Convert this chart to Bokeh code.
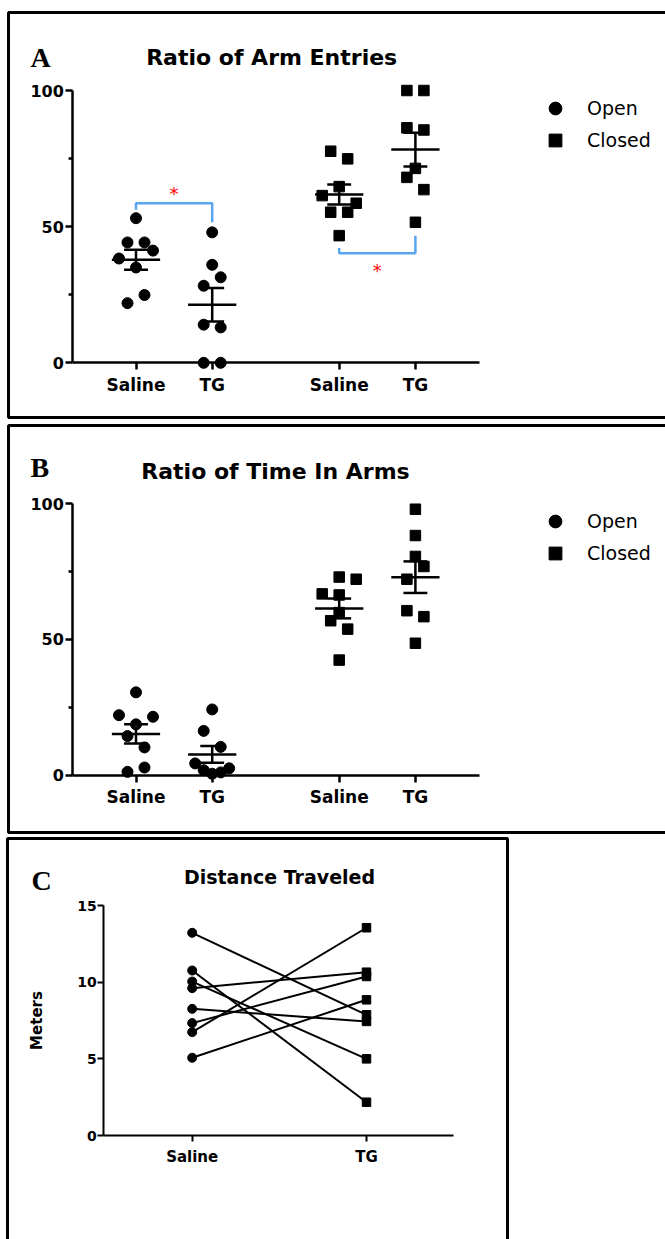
import numpy as np
from bokeh.plotting import figure
from bokeh.models import (LinearAxis, FixedTicker, Range1d, Legend, LegendItem,
                          Label, ColumnDataSource, BoxAnnotation)
from bokeh.layouts import column
from bokeh.embed import file_html
from bokeh.resources import INLINE
from bokeh.core.properties import value

# ---------------------------------------------------------------- data
CATEGORIES = ["Saline", "TG"]
ARMS = ["Open", "Closed"]

# Panel A - Ratio of arm entries
A_TITLE = "Ratio of Arm  Entries"
A_OPEN_SALINE = [53.1, 44.2, 44.2, 41.2, 38.3, 35.0, 24.9, 21.9]
A_OPEN_TG = [47.9, 36.0, 31.4, 28.3, 14.0, 13.0, 0.0, 0.0]
A_CLOSED_SALINE = [77.7, 74.9, 64.7, 61.4, 58.6, 55.3, 55.3, 46.7]
A_CLOSED_TG = [100.0, 100.0, 86.3, 85.5, 71.4, 68.1, 63.6, 51.6]

# Panel B - Ratio of time in arms
B_TITLE = "Ratio of Time In Arms"
B_OPEN_SALINE = [30.5, 22.1, 21.5, 18.7, 14.4, 10.2, 1.2, 2.8]
B_OPEN_TG = [24.2, 16.3, 10.4, 4.3, 1.8, 0.5, 1.0, 2.5]
B_CLOSED_SALINE = [73.0, 72.2, 66.8, 66.4, 59.9, 56.9, 53.8, 42.4]
B_CLOSED_TG = [98.0, 88.3, 80.6, 76.9, 72.2, 60.6, 58.4, 48.6]

# Panel C - Distance traveled (paired, meters)
C_TITLE = "Distance Traveled"
C_YLABEL = "Meters"
C_SALINE = [13.22, 10.76, 10.04, 9.61, 8.26, 7.33, 6.74, 5.07]
C_TG = [7.87, 2.17, 5.00, 10.65, 7.44, 10.37, 13.55, 8.85]

Y_TICKS_AB = [0, 50, 100]
Y_MINOR_AB = [25, 75]
Y_TICKS_C = [0, 5, 10, 15]

# significance brackets in panel A (y values: bar, left end, right end, star)
A_SIG_OPEN = [58.6, 56.2, 51.6, 62.6]
A_SIG_CLOSED = [40.2, 42.2, 46.7, 34.1]

# ---------------------------------------------------------------- style / layout
W = 665
FONT = "DejaVu Sans"
SERIF = "Liberation Serif"
BLUE = "#5aa5f0"

# scatter spread of overlapping points (in marker steps)
SPREAD = {
    "A": {("Open", "Saline"): [0, -1, 1, 2, -2, 0, 1, -1],
          ("Open", "TG"): [0, 0, 1, -1, -1, 1, -1, 1],
          ("Closed", "Saline"): [-1, 1, 0, -2, 2, -1, 1, 0],
          ("Closed", "TG"): [-1, 1, -1, 1, 0, -1, 1, 0]},
    "B": {("Open", "Saline"): [0, -2, 2, 0, -1, 1, -1, 1],
          ("Open", "TG"): [0, -1, 1, -2, -1, 0, 1, 2],
          ("Closed", "Saline"): [0, 2, -2, 0, 0, -1, 1, 0],
          ("Closed", "TG"): [0, 0, 0, 1, -1, -1, 1, 0]},
}
GROUP_POS = {("Open", "Saline"): 2, ("Open", "TG"): 5,
             ("Closed", "Saline"): 10, ("Closed", "TG"): 13}
STEP = 8.5 / 25.4


class Map:
    """linear pixel -> data map"""
    def __init__(self, p1, v1, p2, v2):
        self.p1, self.v1 = p1, v1
        self.k = (v2 - v1) / (p2 - p1)

    def __call__(self, px):
        return self.v1 + (px - self.p1) * self.k


def make_fig(h, border, xm, ym):
    p = figure(width=W, height=h,
               x_range=Range1d(xm(0), xm(W)), y_range=Range1d(ym(h), ym(0)),
               x_axis_type=None, y_axis_type=None,
               toolbar_location=None, tools="", output_backend="svg",
               min_border=0, min_border_left=0, min_border_top=0,
               min_border_right=0, min_border_bottom=0,
               background_fill_color="white", border_fill_color="white")
    p.outline_line_color = None
    l, t, r, b = border
    p.add_layout(BoxAnnotation(left=xm(l), right=xm(r), top=ym(t), bottom=ym(b),
                               fill_color=None, fill_alpha=0,
                               line_color="black", line_alpha=1.0, line_width=3))
    return p


def style_axis(ax, size, lw):
    ax.axis_line_width = lw
    ax.major_tick_line_width = lw
    ax.minor_tick_line_width = lw
    ax.major_tick_in = 0
    ax.minor_tick_in = 0
    ax.major_label_text_font = FONT
    ax.major_label_text_font_style = "bold"
    ax.major_label_text_font_size = size
    ax.major_label_text_color = "black"


def add_label(p, x, y, text, font, size, style="bold", align="center", angle=0.0,
              baseline="alphabetic"):
    p.add_layout(Label(x=x, y=y, text=text, text_font=font, text_font_size=size,
                       text_font_style=style, text_align=align,
                       text_baseline=baseline, angle=angle, text_color="black"))


def scatter_panel(key, h, border, ymap, title, label_txt, title_base, label_base,
                  data, legend_bottom):
    xm = Map(135.5, 2, 135.5 + 76.2, 5)
    ym = ymap
    p = make_fig(h, border, xm, ym)

    # y axis
    yax = LinearAxis(fixed_location=xm(72.3), bounds=(0, 100),
                     ticker=FixedTicker(ticks=Y_TICKS_AB, minor_ticks=Y_MINOR_AB))
    style_axis(yax, "16px", 2.5)
    yax.major_tick_out = 7
    yax.minor_tick_out = 4
    yax.major_label_standoff = 2
    p.add_layout(yax, "left")

    # x axis
    ticks = [GROUP_POS[(a, c)] for a in ARMS for c in CATEGORIES]
    labels = {GROUP_POS[(a, c)]: c for a in ARMS for c in CATEGORIES}
    xax = LinearAxis(fixed_location=0, bounds=(xm(72.3), xm(479.2)),
                     ticker=FixedTicker(ticks=ticks, minor_ticks=[]),
                     major_label_overrides=labels)
    style_axis(xax, "17px", 2.5)
    xax.major_tick_out = 7
    xax.major_label_standoff = 5
    p.add_layout(xax, "below")

    renderers = {}
    seg = dict(x0=[], y0=[], x1=[], y1=[])
    for arm, marker, msize in (("Open", "circle", 11), ("Closed", "square", 10.5)):
        xs, ys = [], []
        for cat in CATEGORIES:
            vals = np.array(data[(arm, cat)], dtype=float)
            c = GROUP_POS[(arm, cat)]
            xs += [c + s * STEP for s in SPREAD[key][(arm, cat)]]
            ys += list(vals)
            m = vals.mean()
            sem = vals.std(ddof=1) / np.sqrt(len(vals))
            # mean line, sem whisker, caps
            for (a0, b0, a1, b1) in ((c - 0.95, m, c + 0.95, m),
                                     (c, m - sem, c, m + sem),
                                     (c - 0.47, m + sem, c + 0.47, m + sem),
                                     (c - 0.47, m - sem, c + 0.47, m - sem)):
                seg["x0"].append(a0); seg["y0"].append(b0)
                seg["x1"].append(a1); seg["y1"].append(b1)
        src = ColumnDataSource(dict(x=xs, y=ys))
        renderers[arm] = p.scatter("x", "y", source=src, marker=marker, size=msize,
                                   fill_color="black", line_color="black")
    p.segment("x0", "y0", "x1", "y1", source=ColumnDataSource(seg),
              line_color="black", line_width=2.5)

    legend = Legend(items=[LegendItem(label=a, renderers=[renderers[a]]) for a in ARMS],
                    location=(539, h - legend_bottom), orientation="vertical",
                    glyph_width=32, glyph_height=32, spacing=0, padding=0, margin=0,
                    label_standoff=16, label_text_font=FONT, label_text_font_size="19px",
                    label_text_color="black", border_line_color=None,
                    background_fill_alpha=0)
    p.add_layout(legend)

    add_label(p, xm(30), ym(label_base), label_txt, SERIF, "28px", align="left")
    add_label(p, xm(275), ym(title_base), title, FONT, "22px")
    return p, xm, ym


# ---------------- Panel A
A_DATA = {("Open", "Saline"): A_OPEN_SALINE, ("Open", "TG"): A_OPEN_TG,
          ("Closed", "Saline"): A_CLOSED_SALINE, ("Closed", "TG"): A_CLOSED_TG}
pA, xmA, ymA = scatter_panel("A", 421, (8, 12, 672, 417), Map(362.3, 0, 90.0, 100),
                             A_TITLE, "A", 57.3, 57.3, A_DATA, 156.35)

# significance brackets
for arm_sig, sig in (("Open", A_SIG_OPEN), ("Closed", A_SIG_CLOSED)):
    xl = GROUP_POS[(arm_sig, "Saline")]
    xr = GROUP_POS[(arm_sig, "TG")]
    bar, lend, rend, star = sig
    pA.line([xl, xl, xr, xr], [lend, bar, bar, rend], line_color=BLUE, line_width=2.5)
    pA.text(x=[(xl + xr) / 2], y=[star], text=["*"], text_color="red",
            text_font=value(FONT), text_font_size="18px", text_align="center",
            text_baseline="middle", y_offset=1)

# ---------------- Panel B
B_DATA = {("Open", "Saline"): B_OPEN_SALINE, ("Open", "TG"): B_OPEN_TG,
          ("Closed", "Saline"): B_CLOSED_SALINE, ("Closed", "TG"): B_CLOSED_TG}
pB, xmB, ymB = scatter_panel("B", 414, (8, 4, 672, 411), Map(353.6, 0, 82.3, 100),
                             B_TITLE, "B", 49.7, 45.7, B_DATA, 147.85)

# ---------------- Panel C
xmC = Map(191.7, 1, 366.0, 2)
ymC = Map(300.0, 0, 70.0, 15)
pC = make_fig(404, (7, 3, 507, 410), xmC, ymC)

yaxC = LinearAxis(fixed_location=xmC(103.3), bounds=(0, 15),
                  ticker=FixedTicker(ticks=Y_TICKS_C, minor_ticks=[]))
style_axis(yaxC, "14px", 2)
yaxC.major_tick_out = 6
yaxC.major_label_standoff = 1
pC.add_layout(yaxC, "left")

xaxC = LinearAxis(fixed_location=0, bounds=(xmC(103.3), xmC(453.3)),
                  ticker=FixedTicker(ticks=[1, 2], minor_ticks=[]),
                  major_label_overrides={1: CATEGORIES[0], 2: CATEGORIES[1]})
style_axis(xaxC, "15px", 2)
xaxC.major_tick_out = 6
xaxC.major_label_standoff = 6
pC.add_layout(xaxC, "below")

n = len(C_SALINE)
pC.segment(x0=[1] * n, y0=C_SALINE, x1=[2] * n, y1=C_TG, line_color="black", line_width=2)
pC.scatter(x=[1] * n, y=C_SALINE, marker="circle", size=9, color="black")
pC.scatter(x=[2] * n, y=C_TG, marker="square", size=8.5, color="black")

add_label(pC, xmC(31), ymC(45), "C", SERIF, "28px", align="left")
add_label(pC, xmC(279), ymC(41.7), C_TITLE, FONT, "19px")
add_label(pC, xmC(36), ymC(185), C_YLABEL, FONT, "15px", angle=np.pi / 2,
          baseline="middle")

layout = column(pA, pB, pC, spacing=0)
open("out.html", "w").write(file_html(layout, INLINE))
